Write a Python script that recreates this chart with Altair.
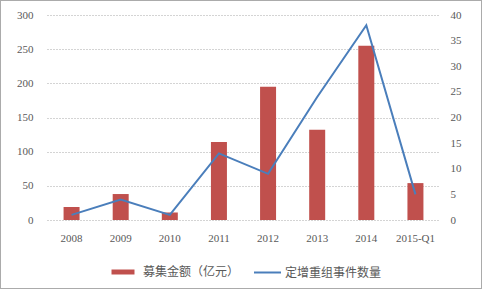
import altair as alt
import pandas as pd

years = ["2008", "2009", "2010", "2011", "2012", "2013", "2014", "2015-Q1"]
amount = [19, 38, 11, 114, 195, 132, 255, 54]
events = [1, 4, 1, 13, 9, 24, 38, 5]
bar_name = "募集金额（亿元）"
line_name = "定增重组事件数量"

df = pd.DataFrame({"year": years, "amount": amount, "events": events,
                   "bs": bar_name, "ls": line_name})

serif = "Liberation Serif"
cjk = "Noto Sans CJK SC"
grey = "#595959"

x = alt.X("year:N", sort=years, title=None,
          scale=alt.Scale(paddingInner=0, paddingOuter=0),
          axis=alt.Axis(labelAngle=0, labelFont=serif, labelFontSize=11, labelColor=grey,
                        ticks=False, domain=False, labelPadding=12, grid=False))

bars = alt.Chart(df).mark_bar(size=16).encode(
    x=x,
    y=alt.Y("amount:Q", title=None,
            scale=alt.Scale(domain=[0, 300]),
            axis=alt.Axis(values=[0, 50, 100, 150, 200, 250, 300], labelFont=serif,
                          labelFontSize=11, labelColor=grey, ticks=False, domain=False,
                          labelPadding=14, grid=True, gridColor="#a8a8a8",
                          gridDash=[1, 2], gridWidth=1)),
    color=alt.Color("bs:N", scale=alt.Scale(range=["#C0504D"]),
                    legend=alt.Legend(orient="none", legendX=70, legendY=251, title=None,
                                      symbolType="M-2.3,-0.5H2.3V0.5H-2.3Z", symbolSize=100,
                                      symbolStrokeWidth=0, labelFont=cjk, labelFontSize=12,
                                      labelColor=grey, labelOffset=14)),
)

line = alt.Chart(df).mark_line(strokeWidth=2).encode(
    x=x,
    y=alt.Y("events:Q", title=None,
            scale=alt.Scale(domain=[0, 40]),
            axis=alt.Axis(orient="right", values=[0, 5, 10, 15, 20, 25, 30, 35, 40],
                          labelFont=serif, labelFontSize=11, labelColor=grey, ticks=False,
                          domain=False, labelPadding=10, grid=False)),
    stroke=alt.Stroke("ls:N", scale=alt.Scale(range=["#4A7EBB"]),
                      legend=alt.Legend(orient="none", legendX=206, legendY=243, title=None,
                                        symbolType="stroke", symbolSize=729,
                                        symbolStrokeWidth=2, labelFont=cjk, labelFontSize=12,
                                        labelColor=grey, labelOffset=3)),
)

frame = alt.Chart(df).mark_rect(fill=None, stroke="#aaaaaa", strokeDash=[1, 1],
                                strokeWidth=1, clip=False).encode(
    x=alt.value(-46.5), x2=alt.value(434.5), y=alt.value(-14.5), y2=alt.value(273.5)
)

chart = alt.layer(bars, line, frame).resolve_scale(
    y="independent", color="independent", stroke="independent"
).properties(
    width=393, height=205,
    autosize=alt.AutoSizeParams(type="none"),
    padding={"left": 47, "top": 15, "right": 42, "bottom": 69},
    background="white",
).configure_view(stroke=None)

chart.save("out.html", embed_options={"renderer": "svg", "actions": False})
